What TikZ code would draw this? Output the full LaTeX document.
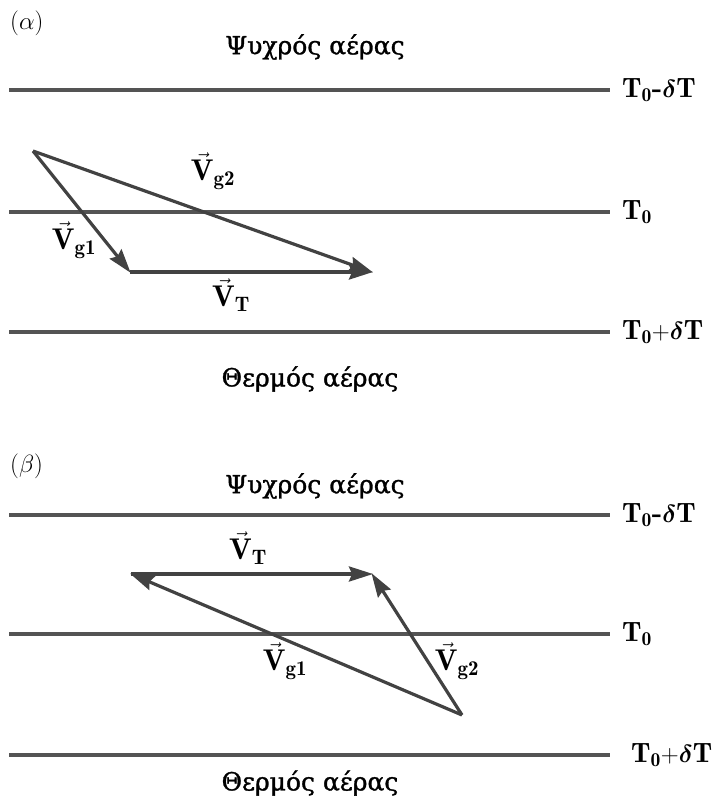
\documentclass[tikz,border=0pt]{standalone}
\usepackage{amsmath,amssymb}
\usepackage{fontspec}
\newfontfamily\grfont[FakeBold=1.2]{DejaVu Serif}
\usetikzlibrary{arrows.meta}
\tikzset{
  isoline/.style={draw=black!67, line width=3.3pt},
  vecarrow/.style={draw=black!74, line width=3.2pt, -{Stealth[length=24pt,width=15pt,inset=3pt]}, shorten >=-1pt},
  linelabel/.style={anchor=west, inner sep=0pt, font=\fontsize{28}{32}\selectfont},
  veclabel/.style={inner sep=0pt, font=\fontsize{30}{34}\selectfont},
  airlabel/.style={inner sep=0pt, font=\grfont\fontsize{25}{30}\selectfont},
  panellabel/.style={anchor=west, inner sep=0pt, font=\fontsize{32}{36}\selectfont}
}
\newcommand{\TminusdT}{$\mathbf{T}_{\mathbf{0}}$\textbf{-}$\boldsymbol{\delta}\mathbf{T}$}
\newcommand{\Tzero}{$\mathbf{T}_{\mathbf{0}}$}
\newcommand{\TplusdT}{$\mathbf{T}_{\mathbf{0}}\mathbf{+}\boldsymbol{\delta}\mathbf{T}$}
\newcommand{\vecV}[1]{$\vec{\mathbf{V}}_{\mathbf{#1}}$}
\begin{document}
\begin{tikzpicture}[x=1pt,y=-1pt]
\useasboundingbox (0,0) rectangle (719,801);
% ---------- panel alpha ----------
\node[panellabel] (pa) at (10,23) {$(\alpha)$};
\node[airlabel] (colda) at (315,47) {Ψυχρός αέρας};
\coordinate (a1l) at (9,90);   \coordinate (a1r) at (610,90);
\coordinate (a2l) at (9,212);  \coordinate (a2r) at (610,212);
\coordinate (a3l) at (9,332);  \coordinate (a3r) at (610,332);
\draw[isoline] (a1l) -- (a1r);
\draw[isoline] (a2l) -- (a2r);
\draw[isoline] (a3l) -- (a3r);
\node[linelabel] (la1) at (622,90) {\TminusdT};
\node[linelabel] (la2) at (622,212) {\Tzero};
\node[linelabel] (la3) at (622,332) {\TplusdT};
\node[airlabel] (warma) at (310,379) {Θερμός αέρας};
\coordinate (aA) at (33,151);
\coordinate (aB) at (130,272);
\coordinate (aC) at (372,272);
\draw[vecarrow] (aA) -- (aB);
\draw[vecarrow] (aB) -- (aC);
\draw[vecarrow] (aA) -- (aC);
\node[veclabel] (va2) at (213,171) {\vecV{g2}};
\node[veclabel] (va1) at (74,240) {\vecV{g1}};
\node[veclabel] (vaT) at (231,295) {\vecV{T}};
% ---------- panel beta ----------
\node[panellabel] (pb) at (10,466) {$(\beta)$};
\node[airlabel] (coldb) at (315,486) {Ψυχρός αέρας};
\coordinate (b1l) at (9,515);  \coordinate (b1r) at (610,515);
\coordinate (b2l) at (9,634);  \coordinate (b2r) at (610,634);
\coordinate (b3l) at (9,755);  \coordinate (b3r) at (610,755);
\draw[isoline] (b1l) -- (b1r);
\draw[isoline] (b2l) -- (b2r);
\draw[isoline] (b3l) -- (b3r);
\node[linelabel] (lb1) at (622,515) {\TminusdT};
\node[linelabel] (lb2) at (622,634) {\Tzero};
\node[linelabel] (lb3) at (631,755) {\TplusdT};
\node[airlabel] (warmb) at (310,783) {Θερμός αέρας};
\coordinate (bP) at (462,715);
\coordinate (bQ) at (131,574);
\coordinate (bR) at (372,574);
\draw[vecarrow] (bQ) -- (bR);
\draw[vecarrow] (bP) -- (bQ);
\draw[vecarrow] (bP) -- (bR);
\node[veclabel] (vbT) at (248,548) {\vecV{T}};
\node[veclabel] (vb1) at (285,661) {\vecV{g1}};
\node[veclabel] (vb2) at (457,661) {\vecV{g2}};
\end{tikzpicture}
\end{document}
